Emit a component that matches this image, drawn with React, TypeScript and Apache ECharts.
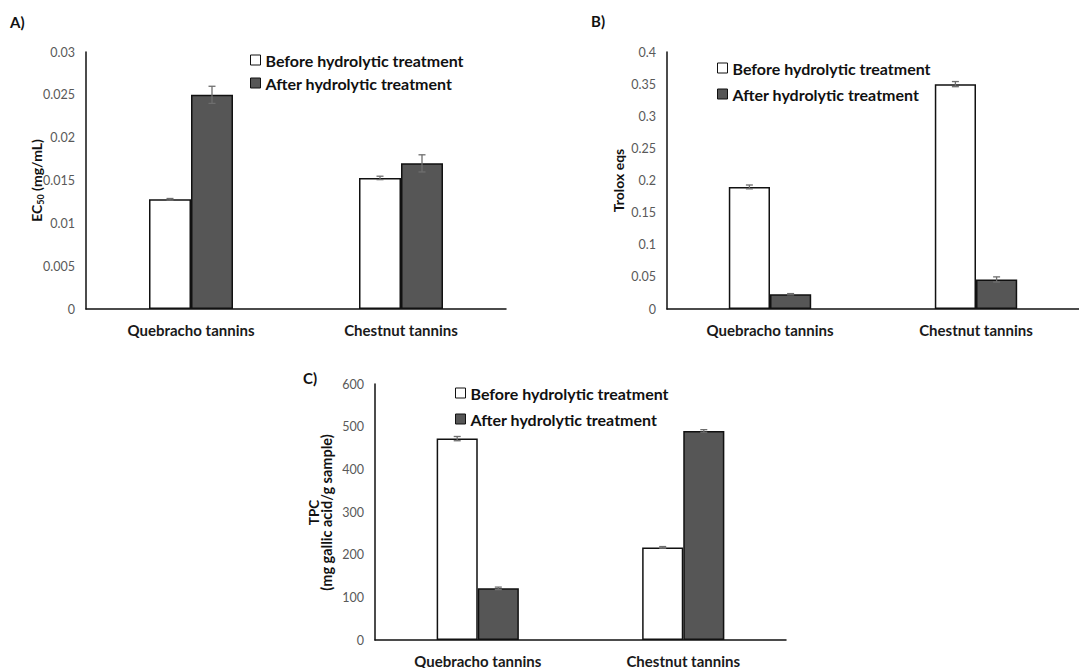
import React, { useEffect, useRef } from "react";
import * as echarts from "echarts";

const categories = ["Quebracho tannins", "Chestnut tannins"];
const legendNames = ["Before hydrolytic treatment", "After hydrolytic treatment"];

// Panel A: EC50 (mg/mL)
const ec50Before = [0.0128, 0.0153];
const ec50After = [0.025, 0.017];
const ec50BeforeErr = [0.0001, 0.0002];
const ec50AfterErr = [0.001, 0.001];

// Panel B: Trolox eqs
const troloxBefore = [0.19, 0.35];
const troloxAfter = [0.023, 0.046];
const troloxBeforeErr = [0.003, 0.004];
const troloxAfterErr = [0.001, 0.004];

// Panel C: TPC (mg gallic acid/g sample)
const tpcBefore = [472, 217];
const tpcAfter = [121, 490];
const tpcBeforeErr = [5, 2];
const tpcAfterErr = [3, 3];

const FONT = "Lato, 'Open Sans', sans-serif";
const DARK = "#565656";
const ERR = "#6e6e6e";

function errData(vals: number[], errs: number[], side: number) {
  return vals.map((v, i) => [i, v, errs[i], side]);
}

const renderErr = (params: any, api: any) => {
  const cat = api.value(0);
  const val = api.value(1);
  const err = api.value(2);
  const side = api.value(3);
  const band = api.size([1, 0])[0];
  const c = api.coord([cat, val]);
  const x = c[0] + side * 0.1 * band;
  const top = api.coord([cat, val + err])[1];
  const bot = api.coord([cat, val - err])[1];
  const cap = 3.5;
  const style = { stroke: ERR, lineWidth: 1.3 };
  return {
    type: "group",
    children: [
      { type: "line", shape: { x1: x, y1: top, x2: x, y2: bot }, style },
      { type: "line", shape: { x1: x - cap, y1: top, x2: x + cap, y2: top }, style },
      { type: "line", shape: { x1: x - cap, y1: bot, x2: x + cap, y2: bot }, style },
    ],
  };
};

export default function App() {
  const ref = useRef<HTMLDivElement>(null);

  useEffect(() => {
    if (!ref.current) return;
    const chart = echarts.init(ref.current, undefined, { renderer: "svg" });

    const grids = [
      { left: 86, top: 52, width: 420, height: 257 },
      { left: 667, top: 52, width: 424, height: 257 },
      { left: 375, top: 384, width: 411, height: 257 },
    ];

    const xAxes = grids.map((_, i) => ({
      type: "category",
      gridIndex: i,
      data: categories,
      axisLine: { lineStyle: { color: "#111", width: 1.5 } },
      axisTick: { show: false },
      axisLabel: {
        margin: 13,
        fontFamily: FONT,
        fontWeight: "bold",
        fontSize: 15,
        color: "#1a1a1a",
      },
    }));

    const yBase = {
      type: "value",
      min: 0,
      splitLine: { show: false },
      axisTick: { show: false },
      axisLine: { show: true, lineStyle: { color: "#111", width: 1.5 } },
      axisLabel: { margin: 11, fontFamily: FONT, fontSize: 12.5, color: "#595959" },
    };

    const yAxes = [
      { ...yBase, gridIndex: 0, max: 0.03, interval: 0.005 },
      { ...yBase, gridIndex: 1, max: 0.4, interval: 0.05 },
      { ...yBase, gridIndex: 2, max: 600, interval: 100 },
    ];

    const sets = [
      [ec50Before, ec50After, ec50BeforeErr, ec50AfterErr],
      [troloxBefore, troloxAfter, troloxBeforeErr, troloxAfterErr],
      [tpcBefore, tpcAfter, tpcBeforeErr, tpcAfterErr],
    ];

    const series: any[] = [];
    sets.forEach((s, i) => {
      series.push({
        type: "bar",
        name: legendNames[0],
        xAxisIndex: i,
        yAxisIndex: i,
        data: s[0],
        barWidth: "20%",
        barGap: "0%",
        itemStyle: { color: "#ffffff", borderColor: "#111", borderWidth: 1.5 },
      });
      series.push({
        type: "bar",
        name: legendNames[1],
        xAxisIndex: i,
        yAxisIndex: i,
        data: s[1],
        barWidth: "20%",
        barGap: "0%",
        itemStyle: { color: DARK, borderColor: "#111", borderWidth: 1.5 },
      });
      series.push({
        type: "custom",
        name: "errBefore" + i,
        xAxisIndex: i,
        yAxisIndex: i,
        data: errData(s[0], s[2], -1),
        renderItem: renderErr,
        z: 10,
      });
      series.push({
        type: "custom",
        name: "errAfter" + i,
        xAxisIndex: i,
        yAxisIndex: i,
        data: errData(s[1], s[3], 1),
        renderItem: renderErr,
        z: 10,
      });
    });

    const legendPos = [
      { left: 250, top: 51, itemGap: 5 },
      { left: 717, top: 59, itemGap: 8 },
      { left: 455, top: 384, itemGap: 8 },
    ];

    const legends = legendPos.map((p) => ({
      ...p,
      padding: 0,
      orient: "vertical",
      selectedMode: false,
      data: legendNames,
      icon: "rect",
      itemWidth: 10,
      itemHeight: 10,
      itemStyle: { borderColor: "#111", borderWidth: 1 },
      textStyle: {
        fontFamily: FONT,
        fontWeight: "bold",
        fontSize: 16,
        color: "#111",
        lineHeight: 18,
      },
    }));

    const titleStyle = { fontFamily: FONT, fontWeight: "bold", fontSize: 15, color: "#111" };
    const titles = [
      { text: "A)", left: 10, top: 14, padding: 0, textStyle: titleStyle },
      { text: "B)", left: 591, top: 13, padding: 0, textStyle: titleStyle },
      { text: "C)", left: 303, top: 370, padding: 0, textStyle: titleStyle },
    ];

    const nameStyle = (text: string, size: number) => ({
      text,
      fontFamily: FONT,
      fontWeight: "bold",
      fontSize: size,
      fill: "#111",
      align: "center",
      verticalAlign: "middle",
    });

    const axisNames = [
      {
        type: "text",
        x: 36,
        y: 180.5,
        rotation: Math.PI / 2,
        style: {
          ...nameStyle("{a|EC}{s|50}{a| (mg/mL)}", 14),
          rich: {
            a: { fontFamily: FONT, fontWeight: "bold", fontSize: 14, fill: "#111", lineHeight: 17 },
            s: { fontFamily: FONT, fontWeight: "bold", fontSize: 9, fill: "#111", lineHeight: 9, verticalAlign: "bottom" },
          },
        },
      },
      { type: "text", x: 618, y: 180.5, rotation: Math.PI / 2, style: nameStyle("Trolox eqs", 14) },
      { type: "text", x: 314, y: 512.5, rotation: Math.PI / 2, style: nameStyle("TPC", 13.5) },
      { type: "text", x: 326, y: 512.5, rotation: Math.PI / 2, style: nameStyle("(mg gallic acid/g sample)", 14.5) },
    ];

    chart.setOption({
      animation: false,
      backgroundColor: "#ffffff",
      title: titles,
      legend: legends,
      grid: grids,
      xAxis: xAxes,
      yAxis: yAxes,
      series,
      graphic: axisNames,
    });

    return () => chart.dispose();
  }, []);

  return (
    <div
      ref={ref}
      style={{ position: "fixed", left: 0, top: 0, width: 1079, height: 668 }}
    />
  );
}
